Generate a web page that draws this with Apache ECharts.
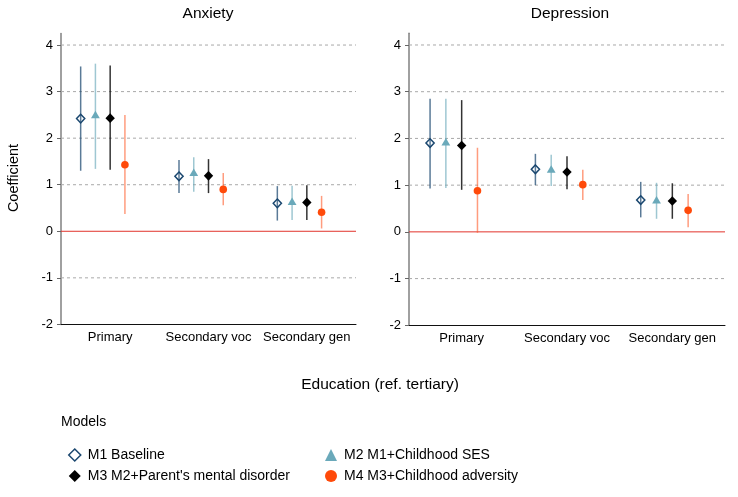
<!DOCTYPE html>
<html>
<head>
<meta charset="utf-8">
<script src="https://cdn.jsdelivr.net/npm/echarts@6/dist/echarts.min.js"></script>
<style>
html, body { margin: 0; padding: 0; background: #fff; }
#chart { width: 738px; height: 497px; }
</style>
</head>
<body>
<div id="chart"></div>
<script>
var FONT = '"Liberation Sans", Arial, Helvetica, sans-serif';

// categories and tick labels
var categories = ['Primary', 'Secondary voc', 'Secondary gen'];
var yTicks = [-2, -1, 0, 1, 2, 3, 4];
var gridValues = [-1, 1, 2, 3, 4];
var zeroLine = [0];
var modelNames = ['M1 Baseline', 'M2 M1+Childhood SES', "M3 M2+Parent's mental disorder", 'M4 M3+Childhood adversity'];

// [estimate, lower CI, upper CI] per category
var anxM1 = [[2.42, 1.30, 3.54], [1.18, 0.82, 1.53], [0.60, 0.23, 0.97]];
var anxM2 = [[2.49, 1.34, 3.60], [1.25, 0.85, 1.59], [0.63, 0.24, 0.98]];
var anxM3 = [[2.43, 1.32, 3.56], [1.19, 0.82, 1.55], [0.62, 0.24, 0.99]];
var anxM4 = [[1.43, 0.37, 2.50], [0.90, 0.56, 1.25], [0.41, 0.06, 0.76]];

var depM1 = [[1.90, 0.93, 2.85], [1.34, 1.00, 1.67], [0.68, 0.31, 1.07]];
var depM2 = [[1.91, 0.94, 2.85], [1.33, 0.98, 1.65], [0.67, 0.28, 1.05]];
var depM3 = [[1.85, 0.90, 2.82], [1.28, 0.91, 1.62], [0.66, 0.28, 1.04]];
var depM4 = [[0.88, -0.02, 1.80], [1.01, 0.68, 1.33], [0.46, 0.10, 0.81]];

var panels = [[anxM1, anxM2, anxM3, anxM4], [depM1, depM2, depM3, depM4]];

// marker look per model
var styles = [
    { k: -2, shape: 'diamond', color: '#1a476f', ci: 'rgba(26,71,111,0.72)', hollow: true },
    { k: -1, shape: 'triangle', color: '#6aa9ba', ci: 'rgba(106,169,186,0.65)' },
    { k: 0, shape: 'diamond', color: '#000000', ci: 'rgba(0,0,0,0.8)' },
    { k: 1, shape: 'circle', color: '#ff4a0a', ci: 'rgba(255,90,40,0.6)' }
];

function pointRenderer(st) {
    return function (params, api) {
        var band = api.size([1, 0])[0];
        var x = api.coord([api.value(0), 0])[0] + band * 0.15 * st.k;
        var y = api.coord([api.value(0), api.value(1)])[1];
        var yLo = api.coord([api.value(0), api.value(2)])[1];
        var yHi = api.coord([api.value(0), api.value(3)])[1];
        var mk;
        if (st.shape === 'diamond' && st.hollow) {
            mk = { type: 'polygon', shape: { points: [[x, y - 4.3], [x + 4.1, y], [x, y + 4.3], [x - 4.1, y]] },
                style: { fill: 'rgba(0,0,0,0)', stroke: st.color, lineWidth: 1.5 } };
        } else if (st.shape === 'diamond') {
            mk = { type: 'polygon', shape: { points: [[x, y - 4.8], [x + 4.7, y], [x, y + 4.8], [x - 4.7, y]] },
                style: { fill: st.color } };
        } else if (st.shape === 'triangle') {
            mk = { type: 'polygon', shape: { points: [[x, y - 4.5], [x + 4.4, y + 3], [x - 4.4, y + 3]] },
                style: { fill: st.color } };
        } else {
            mk = { type: 'circle', shape: { cx: x, cy: y, r: 3.8 }, style: { fill: st.color } };
        }
        return {
            type: 'group',
            children: [
                { type: 'line', shape: { x1: x, y1: yLo, x2: x, y2: yHi }, style: { stroke: st.ci, lineWidth: 1.5 } },
                mk
            ]
        };
    };
}

function hLineRenderer(color, dash) {
    return function (params, api) {
        var cs = params.coordSys;
        var y = api.coord([0, api.value(1)])[1];
        return { type: 'line', shape: { x1: cs.x, y1: y, x2: cs.x + cs.width, y2: y },
            style: { stroke: color, lineWidth: 1, lineDash: dash } };
    };
}

var grids = [
    { left: 61, top: 33.4, width: 295, height: 291 },
    { left: 409, top: 33.3, width: 316, height: 292 }
];

var xAxes = [], yAxes = [], series = [];
[0, 1].forEach(function (p) {
    xAxes.push({
        type: 'category', gridIndex: p, data: categories, boundaryGap: true,
        axisLine: { onZero: false, lineStyle: { color: '#111', width: 1 } },
        axisTick: { alignWithLabel: true, length: 5, lineStyle: { color: '#111' } },
        axisLabel: { interval: 0, hideOverlap: false, color: '#000', fontSize: 13, fontFamily: FONT, margin: 7 },
        splitLine: { show: false }
    });
    yAxes.push({
        type: 'value', gridIndex: p, min: -2, max: 4.25, interval: 1,
        axisLine: { show: true, lineStyle: { color: '#808080', width: 1.5 } },
        axisTick: { show: true, length: 4, customValues: yTicks, lineStyle: { color: '#666' } },
        axisLabel: { color: '#000', fontSize: 13, fontFamily: FONT, margin: 8, customValues: yTicks },
        splitLine: { show: false }
    });
    series.push({
        type: 'custom', xAxisIndex: p, yAxisIndex: p, silent: true, z: 1,
        data: gridValues.map(function (v) { return [0, v]; }),
        encode: { x: 0, y: 1 },
        renderItem: hLineRenderer('#a9a9a9', [3, 3])
    });
    series.push({
        type: 'custom', xAxisIndex: p, yAxisIndex: p, silent: true, z: 1,
        data: zeroLine.map(function (v) { return [0, v]; }),
        encode: { x: 0, y: 1 },
        renderItem: hLineRenderer('#e2332b', null)
    });
    panels[p].forEach(function (arr, m) {
        series.push({
            type: 'custom', name: modelNames[m], xAxisIndex: p, yAxisIndex: p, z: 3,
            itemStyle: { color: styles[m].color },
            data: arr.map(function (d, i) { return [i, d[0], d[1], d[2]]; }),
            encode: { x: 0, y: [1, 2, 3] },
            renderItem: pointRenderer(styles[m])
        });
    });
});

function legendItem(m) {
    var st = styles[m];
    var item = { name: modelNames[m], icon: st.shape };
    if (st.hollow) item.itemStyle = { color: 'rgba(0,0,0,0)', borderColor: st.color, borderWidth: 1.5 };
    return item;
}

var legendBase = {
    orient: 'vertical', top: 443, itemWidth: 12, itemHeight: 12, itemGap: 7,
    selectedMode: false,
    textStyle: { color: '#000', fontSize: 14, fontFamily: FONT, lineHeight: 14, padding: [0, 0, 0, 2] }
};

var chart = echarts.init(document.getElementById('chart'), null, { renderer: 'canvas' });
chart.setOption({
    animation: false,
    backgroundColor: '#fff',
    grid: grids,
    xAxis: xAxes,
    yAxis: yAxes,
    series: series,
    legend: [
        Object.assign({}, legendBase, { left: 63, data: [legendItem(0), legendItem(2)] }),
        Object.assign({}, legendBase, { left: 320, data: [legendItem(1), legendItem(3)] })
    ],
    graphic: [
        { type: 'text', x: 208, y: 13.5, style: { text: 'Anxiety', font: '15.5px ' + FONT, fill: '#000', textAlign: 'center', textVerticalAlign: 'middle' } },
        { type: 'text', x: 570, y: 13.5, style: { text: 'Depression', font: '15.5px ' + FONT, fill: '#000', textAlign: 'center', textVerticalAlign: 'middle' } },
        { type: 'text', x: 14, y: 178, rotation: Math.PI / 2, style: { text: 'Coefficient', font: '14.5px ' + FONT, fill: '#000', textAlign: 'center', textVerticalAlign: 'middle' } },
        { type: 'text', x: 380, y: 385, style: { text: 'Education (ref. tertiary)', font: '15.5px ' + FONT, fill: '#000', textAlign: 'center', textVerticalAlign: 'middle' } },
        { type: 'text', x: 61, y: 422, style: { text: 'Models', font: '14px ' + FONT, fill: '#000', textAlign: 'left', textVerticalAlign: 'middle' } }
    ]
});
</script>
</body>
</html>
